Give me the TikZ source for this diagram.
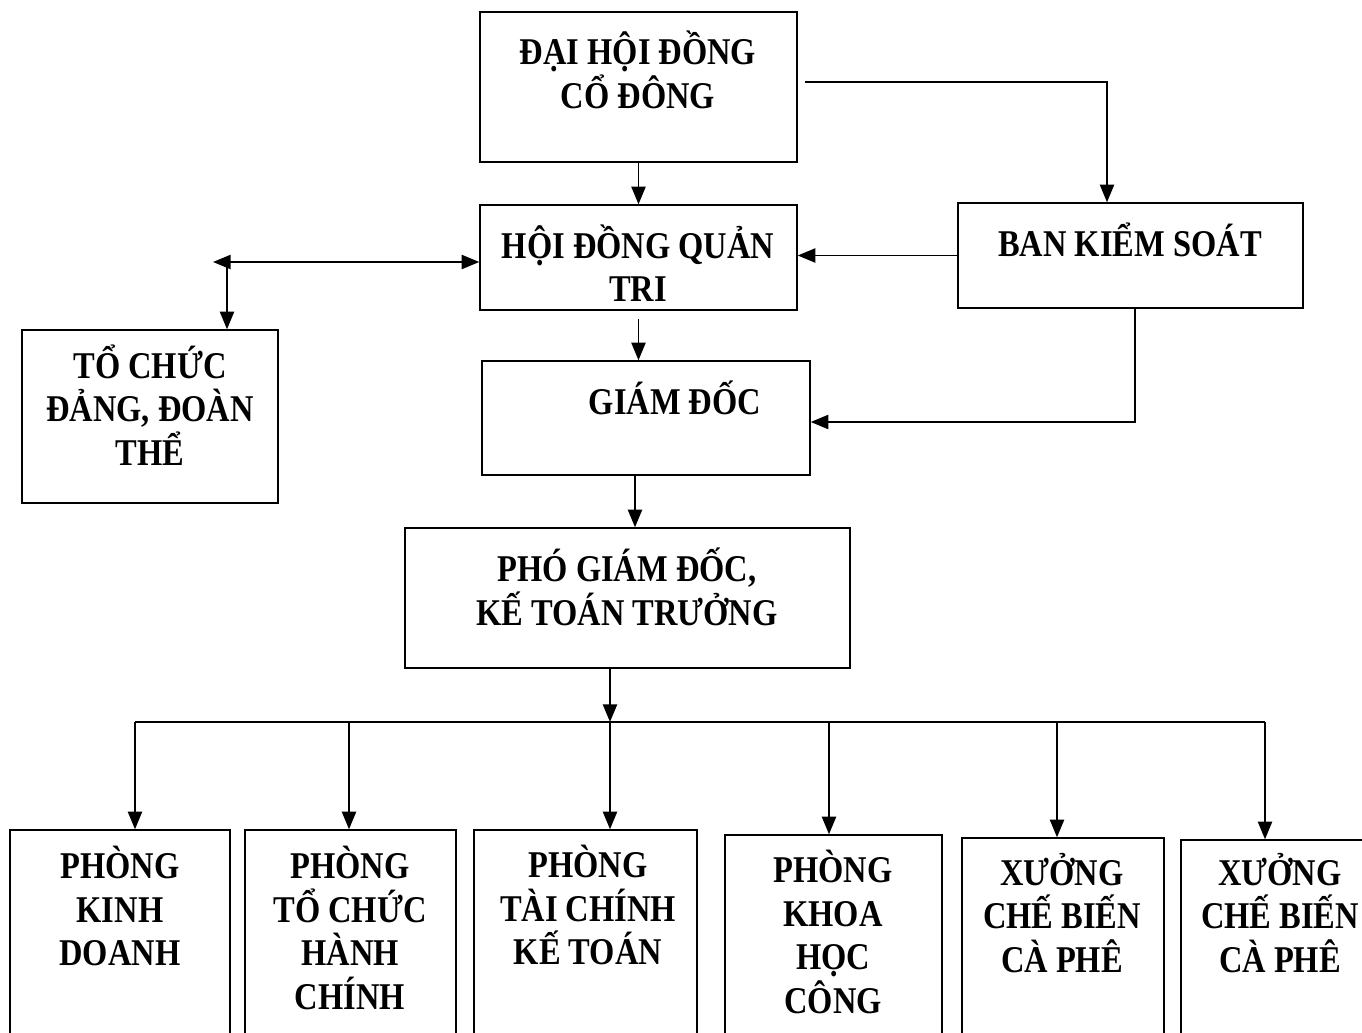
\documentclass[tikz,border=0pt]{standalone}
\usepackage{fontspec}
\setmainfont{Liberation Serif}[FakeStretch=0.86]
\usetikzlibrary{arrows.meta}
\usetikzlibrary{fit}

\tikzset{
  box/.style={draw, line width=0.8pt, inner sep=0pt},
  lbl/.style={align=center, inner sep=0pt, font=\bfseries\fontsize{21.5}{24.7}\selectfont},
  arr/.style={line width=1.1pt, -{Triangle[length=10pt,width=8pt]}},
  arrtwo/.style={line width=1.1pt, {Triangle[length=10pt,width=8pt]}-{Triangle[length=10pt,width=8pt]}},
  link/.style={line width=1.1pt}
}

\begin{document}
\begin{tikzpicture}[x=0.02cm, y=-0.02cm]

\clip (0,0) rectangle (1362,1033);

%---------------------------------------
% Upper boxes
%---------------------------------------
\node[box, fit={(480,12) (797,162)}] (dhd) {};
\node[lbl] (dhdtxt) at (638,70) {ĐẠI HỘI ĐỒNG\\CỔ ĐÔNG};

\node[box, fit={(480,205) (797,310)}] (hdqt) {};
\node[lbl] (hdqttxt) at (638,263) {HỘI ĐỒNG QUẢN\\TRI};

\node[box, fit={(958,203) (1303,308)}] (bks) {};
\node[lbl] (bkstxt) at (1130,240) {BAN KIỂM SOÁT};

\node[box, fit={(482,361) (810,475)}] (gd) {};
\node[lbl] (gdtxt) at (675,398) {GIÁM ĐỐC};

\node[box, fit={(22,330) (278,503)}] (tcd) {};
\node[lbl] (tcdtxt) at (150,405) {TỔ CHỨC\\ĐẢNG, ĐOÀN\\THỂ};

\node[box, fit={(405,528) (850,668)}] (pgd) {};
\node[lbl] (pgdtxt) at (627,587) {PHÓ GIÁM ĐỐC,\\KẾ TOÁN TRƯỞNG};

%---------------------------------------
% Lower boxes (cut by the page edge)
%---------------------------------------
\node[box, fit={(10,830) (230,1045)}] (p1) {};
\node[lbl] (p1txt) at (120,906) {PHÒNG\\KINH\\DOANH};

\node[box, fit={(245,830) (456,1045)}] (p2) {};
\node[lbl] (p2txt) at (350,928) {PHÒNG\\TỔ CHỨC\\HÀNH\\CHÍNH};

\node[box, fit={(474,830) (697,1045)}] (p3) {};
\node[lbl] (p3txt) at (588,905) {PHÒNG\\TÀI CHÍNH\\KẾ TOÁN};

\node[box, fit={(725,835) (942,1045)}] (p4) {};
\node[lbl] (p4txt) at (833,932) {PHÒNG\\KHOA\\HỌC\\CÔNG};

\node[box, fit={(962,838) (1164,1045)}] (p5) {};
\node[lbl] (p5txt) at (1062,913) {XƯỞNG\\CHẾ BIẾN\\CÀ PHÊ};

\node[box, fit={(1181,840) (1385,1045)}] (p6) {};
\node[lbl] (p6txt) at (1280,913) {XƯỞNG\\CHẾ BIẾN\\CÀ PHÊ};

%---------------------------------------
% Connectors
%---------------------------------------
\coordinate (dhdout) at (805,82);
\coordinate (dleft) at (213,262);
\coordinate (djoin) at (227,262);
\coordinate (bus) at (610,722);

\draw[arr] (dhd.south) -- (hdqt.north);
\draw[arr] (dhdout) -| (bks.north -| 1107,0);
\draw[arr] (bks.west) -- (bks.west -| hdqt.east);
\draw[arrtwo] (dleft) -- (dleft -| hdqt.west);
\draw[arr] (djoin) -- (djoin |- tcd.north);
\draw[arr] (hdqt.south) ++(0,8) -- (hdqt.south |- gd.north);
\draw[arr] (bks.south -| 1135,0) |- (gd.east |- 0,422);
\draw[arr] (gd.south -| 635,0) -- (pgd.north -| 635,0);
\draw[arr] (pgd.south -| bus) -- (bus);

% bus to the lower boxes
\draw[link] (135,722) -- (1265,722);
\foreach \n/\x in {p1/135, p2/349, p3/610, p4/829, p5/1057, p6/1265}
  \draw[arr] (\x,722) -- (\n.north -| \x,0);

\end{tikzpicture}
\end{document}
